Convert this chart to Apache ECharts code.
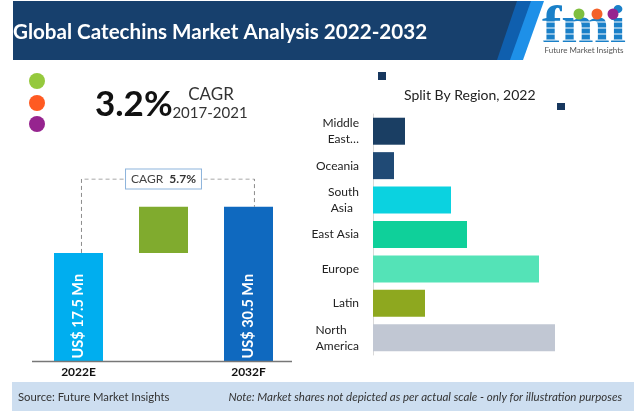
<!DOCTYPE html>
<html>
<head>
<meta charset="utf-8">
<title>Global Catechins Market Analysis 2022-2032</title>
<script src="https://cdn.jsdelivr.net/npm/echarts@6/dist/echarts.min.js"></script>
<style>
html, body { margin: 0; padding: 0; background: #fff; }
#chart { width: 640px; height: 414px; }
</style>
</head>
<body>
<div id="chart"></div>
<script>
// forecast panel: heights (not to scale, see the note), 2032F = 100
var years = ['2022E', '', '2032F'];
var marketLabels = ['US$ 17.5 Mn', '', 'US$ 30.5 Mn'];
var gapBase = [0, 70.2, 0];
var barHeights = [70.2, 29.8, 100];
var bracketTop = 118;
var bracketEnds = [0.035, 2.07];   // in category units, the legs sit off centre in the picture
var cagrText = '5.7%';

// region panel
var regions = ['Middle\nEast…', 'Oceania', 'South\nAsia  ', 'East Asia', 'Europe', 'Latin', 'North    \nAmerica'];
var regionValues = [16, 10.5, 39, 47, 83, 26, 91];

var font = 'Lato';
var barColors = ['#00aeef', '#80ab2e', '#0f69bf'];
var regionColors = ['#1a3e63', '#204a75', '#0bd2e0', '#0fd09a', '#54e3b7', '#8ea81f', '#c1c7d3'];

var myChart = echarts.init(document.getElementById('chart'));

var option = {
    animation: false,
    textStyle: { fontFamily: font },
    title: [
        {
            text: 'Global Catechins Market Analysis 2022-2032',
            left: 8, top: 17,
            textStyle: { color: '#fff', fontSize: 20.6, fontWeight: 'bold', fontFamily: font }
        },
        {
            text: 'Split By Region, 2022',
            left: 399, top: 83,
            textStyle: { color: '#222', fontSize: 14, fontWeight: 'normal', fontFamily: font }
        }
    ],
    grid: [
        { left: 36, top: 179, width: 255, height: 182.5 },
        { left: 373, top: 114, width: 200, height: 241 }
    ],
    xAxis: [
        {
            type: 'category', gridIndex: 0, data: years,
            axisLine: { show: false },
            axisTick: { show: false },
            axisLabel: { color: '#111', fontSize: 12, fontWeight: 'bold', margin: 5, interval: 0 }
        },
        { type: 'value', gridIndex: 1, min: 0, max: 100, show: false },
        // same span as the category axis, only for the bracket
        { type: 'value', gridIndex: 0, min: -0.5, max: 2.5, show: false }
    ],
    yAxis: [
        { type: 'value', gridIndex: 0, min: 0, max: bracketTop, show: false },
        {
            type: 'category', gridIndex: 1, data: regions, inverse: true,
            axisLine: { lineStyle: { color: '#d9d9d9' } },
            axisTick: { length: 4, lineStyle: { color: '#d9d9d9' } },
            axisLabel: { color: '#222', fontSize: 12, lineHeight: 16, margin: 14, interval: 0 }
        }
    ],
    series: [
        {
            type: 'bar', stack: 'total', xAxisIndex: 0, yAxisIndex: 0,
            barWidth: 49, data: gapBase, silent: true,
            itemStyle: { color: 'transparent' }
        },
        {
            type: 'bar', stack: 'total', xAxisIndex: 0, yAxisIndex: 0,
            barWidth: 49, data: barHeights,
            itemStyle: {
                color: function (p) { return barColors[p.dataIndex]; }
            },
            label: {
                show: true, position: 'insideBottom', rotate: 90,
                align: 'left', verticalAlign: 'middle', distance: 3,
                color: '#fff', fontSize: 14.5, fontWeight: 'bold', fontFamily: font,
                formatter: function (p) { return marketLabels[p.dataIndex]; }
            }
        },
        {
            // dashed bracket from the 2022E bar over to the 2032F bar
            type: 'line', xAxisIndex: 2, yAxisIndex: 0,
            data: [
                [bracketEnds[0], barHeights[0]],
                [bracketEnds[0], bracketTop],
                [bracketEnds[1], bracketTop],
                [bracketEnds[1], barHeights[2]]
            ],
            symbol: 'none', silent: true,
            lineStyle: { color: '#8c8c8c', width: 1, type: [4, 3] },
            markPoint: {
                symbol: 'rect', symbolSize: 1, silent: true,
                itemStyle: { color: 'transparent' },
                data: [{ xAxis: 1, yAxis: bracketTop, value: cagrText }],
                label: {
                    show: true, position: 'inside',
                    formatter: function (p) { return 'CAGR  {b|' + p.value + '}'; },
                    color: '#444', fontSize: 12,
                    backgroundColor: '#fff', borderColor: '#8db4dc', borderWidth: 1,
                    padding: [4, 5, 3, 5],
                    rich: { b: { color: '#333', fontSize: 12, fontWeight: 'bold' } }
                }
            }
        },
        {
            type: 'bar', xAxisIndex: 1, yAxisIndex: 1,
            barWidth: 27, data: regionValues,
            itemStyle: {
                color: function (p) { return regionColors[p.dataIndex]; }
            }
        }
    ],
    graphic: [
        // footer and banner go under everything else
        { type: 'rect', z: -1, shape: { x: 12, y: 382, width: 622, height: 29 }, style: { fill: '#cddef0' } },
        { type: 'polygon', z: -1, shape: { points: [[523, 60], [544, 1], [500, 1], [480, 60]] }, style: { fill: '#1e90e8' } },
        { type: 'polygon', z: -1, shape: { points: [[510, 60], [531, 1], [490, 1], [470, 60]] }, style: { fill: '#0f5fae' } },
        { type: 'polygon', z: -1, shape: { points: [[13, 1], [517, 1], [497, 60], [13, 60]] }, style: { fill: '#17406d' } },

        { type: 'text', z: 5, style: { x: 18, y: 397, text: 'Source: Future Market Insights', fill: '#333', font: '11.3px ' + font, verticalAlign: 'middle' } },
        { type: 'text', z: 5, style: { x: 622, y: 397, text: 'Note: Market shares not depicted as per actual scale - only for illustration purposes', fill: '#333', font: 'italic 11.5px ' + font, align: 'right', verticalAlign: 'middle' } },

        // baseline of the forecast panel runs past the grid
        { type: 'line', z: 5, shape: { x1: 32, y1: 361.5, x2: 292, y2: 361.5 }, style: { stroke: '#777', lineWidth: 1.5 } },

        // dots and headline
        { type: 'circle', shape: { cx: 37, cy: 81, r: 8 }, style: { fill: '#95c93d' } },
        { type: 'circle', shape: { cx: 37, cy: 103, r: 8 }, style: { fill: '#ff5a22' } },
        { type: 'circle', shape: { cx: 37, cy: 124, r: 8 }, style: { fill: '#96248f' } },
        { type: 'text', style: { x: 95, y: 105, text: '3.2%', fill: '#111', font: 'bold 35px ' + font, verticalAlign: 'middle' } },
        { type: 'text', style: { x: 211, y: 95, text: 'CAGR', fill: '#333', font: '17px ' + font, align: 'center', verticalAlign: 'middle' } },
        { type: 'text', style: { x: 210, y: 113, text: '2017-2021', fill: '#333', font: '15px ' + font, align: 'center', verticalAlign: 'middle' } },

        // small squares around the region title
        { type: 'rect', shape: { x: 378, y: 72, width: 8, height: 8 }, style: { fill: '#17375e' } },
        { type: 'rect', shape: { x: 557, y: 103, width: 8, height: 7 }, style: { fill: '#17375e' } },

        // logo
        { type: 'text', x: 584, y: 29, scaleX: 1.12, style: { x: 0, y: 0, text: 'fmi', fill: '#1a80c8', font: 'bold 52px "Liberation Serif"', align: 'center', verticalAlign: 'middle' } },
        { type: 'line', shape: { x1: 544, y1: 22, x2: 626, y2: 22 }, style: { stroke: '#fff', lineWidth: 1 } },
        { type: 'line', shape: { x1: 544, y1: 28, x2: 626, y2: 28 }, style: { stroke: '#fff', lineWidth: 1 } },
        { type: 'line', shape: { x1: 544, y1: 34, x2: 626, y2: 34 }, style: { stroke: '#fff', lineWidth: 1 } },
        { type: 'line', shape: { x1: 544, y1: 40, x2: 626, y2: 40 }, style: { stroke: '#fff', lineWidth: 1 } },
        { type: 'circle', shape: { cx: 579, cy: 14, r: 5.5 }, style: { fill: '#7fbf3f' } },
        { type: 'circle', shape: { cx: 597, cy: 14, r: 5.5 }, style: { fill: '#f4622a' } },
        { type: 'circle', shape: { cx: 613, cy: 14, r: 5.5 }, style: { fill: '#96248f' } },
        { type: 'text', style: { x: 584, y: 50, text: 'Future Market Insights', fill: '#555', font: '8px ' + font, align: 'center', verticalAlign: 'middle' } }
    ]
};

myChart.setOption(option);
</script>
</body>
</html>
